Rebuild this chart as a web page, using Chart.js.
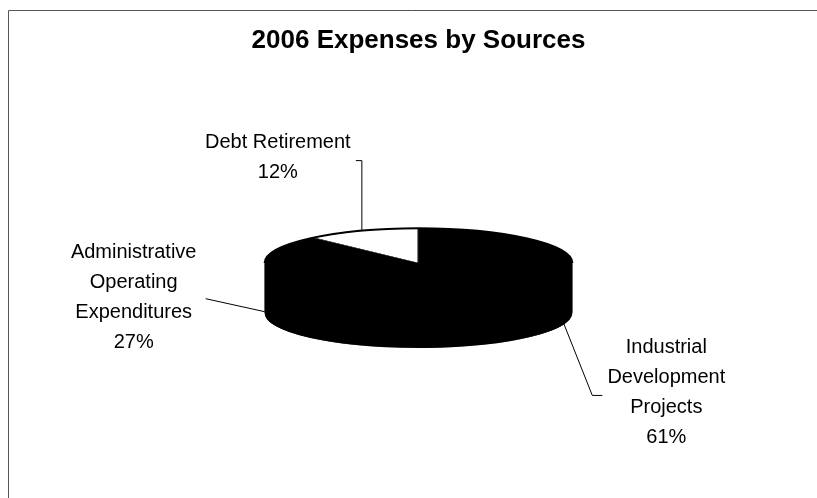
<!DOCTYPE html>
<html>
<head>
<meta charset="utf-8">
<script src="https://cdn.jsdelivr.net/npm/chart.js@4/dist/chart.umd.min.js"></script>
<style>
  html, body { margin: 0; padding: 0; background: #fff; }
  #wrap { width: 817px; height: 498px; position: relative; }
</style>
</head>
<body>
<div id="wrap"><canvas id="chart"></canvas></div>
<script>
const titleText = "2006 Expenses by Sources";
const categories = [
  ["Industrial", "Development", "Projects"],
  ["Administrative", "Operating", "Expenditures"],
  ["Debt Retirement"],
];
const shares = [61, 27, 12];
const sliceColors = ["#000000", "#000000", "#ffffff"];

const FONT = "'Liberation Sans', Arial, sans-serif";

// flat pie squashed into an ellipse, side built from stacked copies
const tiltPlugin = {
  id: "tilt3d",
  beforeDatasetsDraw(chart, _args, opts) {
    const meta = chart.getDatasetMeta(0);
    this._open = false;
    if (!meta.data.length) return;
    const { ctx } = chart;
    const { x: cx, y: cy } = meta.data[0];
    const squash = (c, oy) => {
      c.translate(cx, cy + oy);
      c.scale(1, opts.squash);
      c.translate(-cx, -cy);
    };
    for (let d = opts.depth; d > 0; d--) {
      ctx.save();
      squash(ctx, d);
      for (const arc of meta.data) {
        const saved = arc.options;
        arc.options = Object.assign(Object.create(saved), {
          backgroundColor: opts.sideColor,
          borderColor: opts.sideColor,
        });
        arc.draw(ctx);
        arc.options = saved;
      }
      ctx.restore();
    }
    ctx.save();
    squash(ctx, 0);
    this._open = true;
  },
  afterDatasetsDraw(chart, _args, opts) {
    if (!this._open) return;
    const { ctx } = chart;
    ctx.restore();
    this._open = false;
    const a = chart.getDatasetMeta(0).data[0];
    ctx.save();
    ctx.strokeStyle = "#000";
    ctx.lineWidth = 2;
    ctx.beginPath();
    ctx.ellipse(a.x, a.y, a.outerRadius, a.outerRadius * opts.squash, 0, Math.PI, 2 * Math.PI);
    ctx.stroke();
    ctx.restore();
  },
};

// Excel-style callout labels with leader lines
const calloutPlugin = {
  id: "callouts",
  afterDraw(chart, _args, opts) {
    const meta = chart.getDatasetMeta(0);
    const { ctx } = chart;
    const tilt = chart.options.plugins.tilt3d;
    const data = chart.data.datasets[0].data;
    const total = data.reduce((s, v) => s + v, 0);
    ctx.save();
    ctx.fillStyle = "#000";
    ctx.strokeStyle = "#000";
    ctx.lineWidth = 1;
    ctx.font = opts.font;
    ctx.textAlign = "center";
    ctx.textBaseline = "middle";
    meta.data.forEach((arc, i) => {
      const place = opts.places[i];
      const mid = (arc.startAngle + arc.endAngle) / 2;
      const ax = arc.x + arc.outerRadius * Math.cos(mid);
      let ay = arc.y + arc.outerRadius * tilt.squash * Math.sin(mid);
      if (Math.sin(mid) > 0) ay += tilt.depth * 0.95;

      ctx.beginPath();
      ctx.moveTo(ax, ay);
      for (const [dx, dy] of place.leader) ctx.lineTo(ax + dx, ay + dy);
      ctx.stroke();

      const label = chart.data.labels[i];
      const lines = Array.isArray(label) ? label.slice() : [label];
      lines.push(Math.round((data[i] / total) * 100) + "%");
      const tx = ax + place.text[0];
      const ty = ay + place.text[1];
      const top = ty - ((lines.length - 1) * opts.lineHeight) / 2;
      lines.forEach((ln, k) => ctx.fillText(ln, tx, top + k * opts.lineHeight));
    });
    ctx.restore();
  },
};

const framePlugin = {
  id: "frame",
  beforeDraw(chart) {
    const { ctx, width, height } = chart;
    ctx.save();
    ctx.strokeStyle = "#555";
    ctx.lineWidth = 1;
    ctx.beginPath();
    ctx.moveTo(8.5, height);
    ctx.lineTo(8.5, 10.5);
    ctx.lineTo(width, 10.5);
    ctx.stroke();
    ctx.restore();
  },
};

new Chart(document.getElementById("chart"), {
  type: "pie",
  data: {
    labels: categories,
    datasets: [{
      data: shares,
      backgroundColor: sliceColors,
      borderColor: "#000",
      borderWidth: 1,
      borderAlign: "inner",
    }],
  },
  options: {
    responsive: true,
    maintainAspectRatio: false,
    animation: false,
    events: [],
    layout: { padding: { left: 20, right: 0, top: 0, bottom: 81 } },
    plugins: {
      legend: { display: false },
      tooltip: { enabled: false },
      title: {
        display: true,
        text: titleText,
        color: "#000",
        font: { family: FONT, size: 26, weight: "bold" },
        padding: { top: 25, bottom: 53 },
      },
      tilt3d: { squash: 0.227, depth: 50, sideColor: "#000" },
      callouts: {
        font: "20px " + FONT,
        lineHeight: 30,
        places: [
          { text: [103, 70], leader: [[29, 73], [39, 73]] },
          { text: [-131, -14], leader: [[-59, -13]] },
          { text: [-84, -73], leader: [[0, -70], [-6, -70]] },
        ],
      },
    },
  },
  plugins: [framePlugin, tiltPlugin, calloutPlugin],
});
</script>
</body>
</html>
